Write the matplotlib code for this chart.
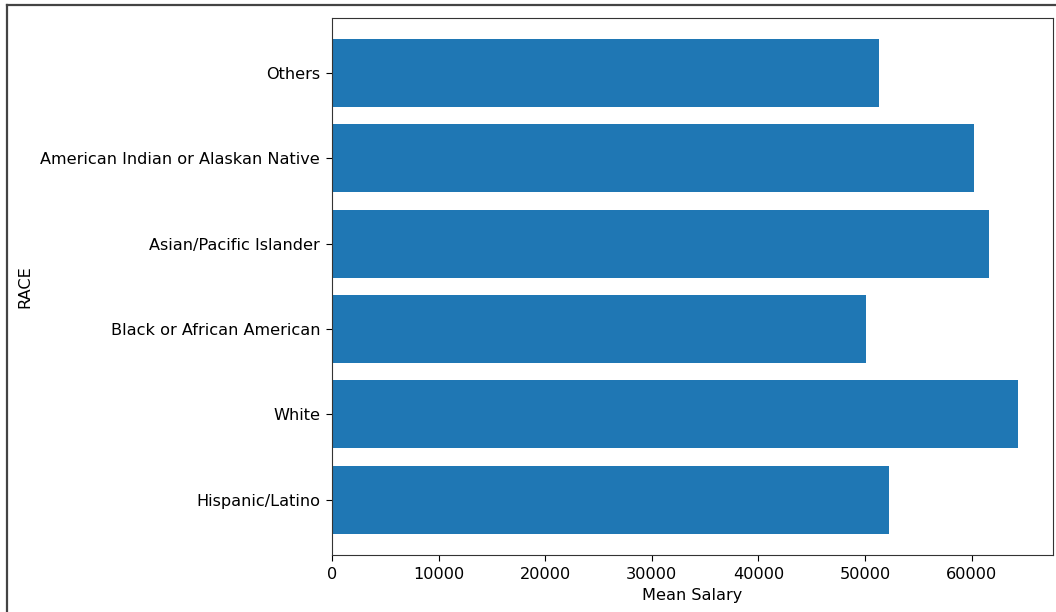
import matplotlib
matplotlib.use("Agg")
import matplotlib.pyplot as plt
from matplotlib.lines import Line2D

races = ["Hispanic/Latino", "White", "Black or African American",
         "Asian/Pacific Islander", "American Indian or Alaskan Native", "Others"]
mean_salary = [52280, 64380, 50090, 61630, 60230, 51290]

fig = plt.figure(figsize=(10.56, 6.12), dpi=100)
ax = fig.add_axes([332/1056, 1-554.7/612, (1052.5-332)/1056, (554.7-18)/612])
ax.barh(races, mean_salary, color="#1f77b4")
ax.set_ylim(-0.645, 5.645)
ax.set_xlabel("Mean Salary", fontsize=11.6, labelpad=5)
ax.set_ylabel("RACE", fontsize=11.6, labelpad=6)
ax.tick_params(labelsize=11.6, length=4.5, pad=4)
for s in ax.spines.values():
    s.set_color("#333333")

# screenshot frame lines
fig.add_artist(Line2D([7/1056, 7/1056], [0, 1-5/612], transform=fig.transFigure,
                      color="#444444", lw=1.6))
fig.add_artist(Line2D([7/1056, 1], [1-5/612, 1-5/612], transform=fig.transFigure,
                      color="#444444", lw=1.6))

fig.savefig("out.png", dpi=100)
